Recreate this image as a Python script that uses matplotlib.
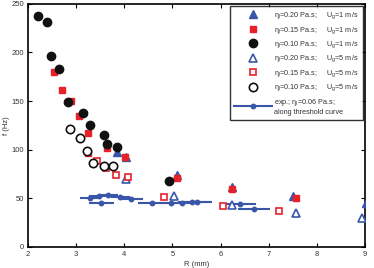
import matplotlib
matplotlib.use("Agg")
import matplotlib.pyplot as plt
from matplotlib.lines import Line2D

plt.rcParams['font.family'] = ['Liberation Sans', 'DejaVu Sans']
plt.rcParams['mathtext.default'] = 'regular'

# eta=0.20, Ug=1 (filled blue triangles)
R_t1 = [3.84, 4.03, 5.09, 6.23, 7.50, 9.03]
f_t1 = [97.5, 92.7, 73.5, 61.0, 52.5, 45.3]
# eta=0.15, Ug=1 (filled red squares)
R_s1 = [2.53, 2.70, 2.89, 3.06, 3.24, 3.24, 3.65, 4.01, 5.09, 6.23, 7.56]
f_s1 = [180, 161, 150, 135, 117, 96, 102, 92, 70.4, 59.8, 50.5]
# eta=0.10, Ug=1 (filled black circles)
R_c1 = [2.20, 2.39, 2.47, 2.64, 2.83, 3.15, 3.29, 3.57, 3.65, 3.84, 4.92]
f_c1 = [238, 231, 196, 183, 149, 138, 125, 115, 106, 103, 68]
# eta=0.20, Ug=5 (open blue triangles)
R_t5 = [4.03, 5.04, 6.23, 7.57, 8.94]
f_t5 = [69.7, 52.5, 43.3, 34.4, 29.2]
# eta=0.15, Ug=5 (open red squares)
R_s5 = [3.43, 3.63, 3.83, 4.07, 4.83, 6.05, 7.22]
f_s5 = [88, 81.4, 73.5, 71.5, 51.2, 42.2, 36.4]
# eta=0.10, Ug=5 (open black circles)
R_c5 = [2.875, 3.08, 3.22, 3.35, 3.57, 3.76]
f_c5 = [121, 112, 98.5, 86.2, 83.4, 83.4]
# experiment, eta=0.06 along threshold curve
R_e = [3.29, 3.47, 3.67, 3.92, 4.13, 3.52, 4.58, 4.97, 5.19, 5.41, 5.51, 6.40, 6.69]
f_e = [50, 52.5, 53, 51, 49, 44.7, 45, 45.5, 45, 45.7, 46.3, 44, 39.2]
xerr_e = [0.22, 0.2, 0.2, 0.2, 0.25, 0.26, 0.3, 0.25, 0.25, 0.3, 0.32, 0.33, 0.33]

xticks = [2, 3, 4, 5, 6, 7, 8, 9]
yticks = [0, 50, 100, 150, 200, 250]

blue = '#3a56a8'
red = '#e8202a'
txt = '#333333'

fig = plt.figure(figsize=(3.74, 2.68), dpi=100)
ax = fig.add_axes([0.0749, 0.0795, 0.901, 0.906])

ax.errorbar(R_e, f_e, xerr=xerr_e, fmt='o', color=blue, ms=3.2, elinewidth=1.5,
            capsize=0, lw=1.5, zorder=2)
h1, = ax.plot(R_t1, f_t1, '^', color=blue, ms=6, mec=blue, ls='none', zorder=3)
h2, = ax.plot(R_s1, f_s1, 's', color=red, ms=5, mec=red, ls='none', zorder=4)
h3, = ax.plot(R_c1, f_c1, 'o', color='#111111', ms=6, ls='none', zorder=5)
h4, = ax.plot(R_t5, f_t5, '^', mfc='white', mec=blue, mew=1.2, ms=6, ls='none', zorder=3)
h5, = ax.plot(R_s5, f_s5, 's', mfc='white', mec=red, mew=1.2, ms=4.8, ls='none', zorder=4)
h6, = ax.plot(R_c5, f_c5, 'o', mfc='white', mec='#111111', mew=1.2, ms=6, ls='none', zorder=5)
h7 = Line2D([], [], color=blue, lw=1.5, marker='o', ms=3.2)

labels = ['η$_l$=0.20 Pa.s;     U$_g$=1 m/s',
          'η$_l$=0.15 Pa.s;     U$_g$=1 m/s',
          'η$_l$=0.10 Pa.s;     U$_g$=1 m/s',
          'η$_l$=0.20 Pa.s;     U$_g$=5 m/s',
          'η$_l$=0.15 Pa.s;     U$_g$=5 m/s',
          'η$_l$=0.10 Pa.s;     U$_g$=5 m/s',
          'exp.; η$_l$=0.06 Pa.s;\nalong threshold curve']

ax.set_xlim(2, 9)
ax.set_ylim(0, 250)
ax.set_xticks(xticks)
ax.set_yticks(yticks)
ax.tick_params(direction='in', top=True, right=True, length=3, width=0.8,
               labelsize=5.5, labelcolor=txt, pad=3)
for s in ax.spines.values():
    s.set_linewidth(1.2)
ax.set_xlabel('R (mm)', fontsize=5.5, color=txt, labelpad=2)
ax.set_ylabel('f (Hz)', fontsize=5.5, color=txt, labelpad=1)

leg = ax.legend([h1, h2, h3, h4, h5, h6, h7], labels, loc='upper right',
                fontsize=5.2, frameon=True, fancybox=False, edgecolor='black',
                labelspacing=0.5, handlelength=5.2, borderaxespad=0.3,
                borderpad=0.6, handletextpad=0.3)
leg.get_frame().set_linewidth(1.0)
for t in leg.get_texts():
    t.set_color(txt)

fig.savefig('out.png', dpi=100)
